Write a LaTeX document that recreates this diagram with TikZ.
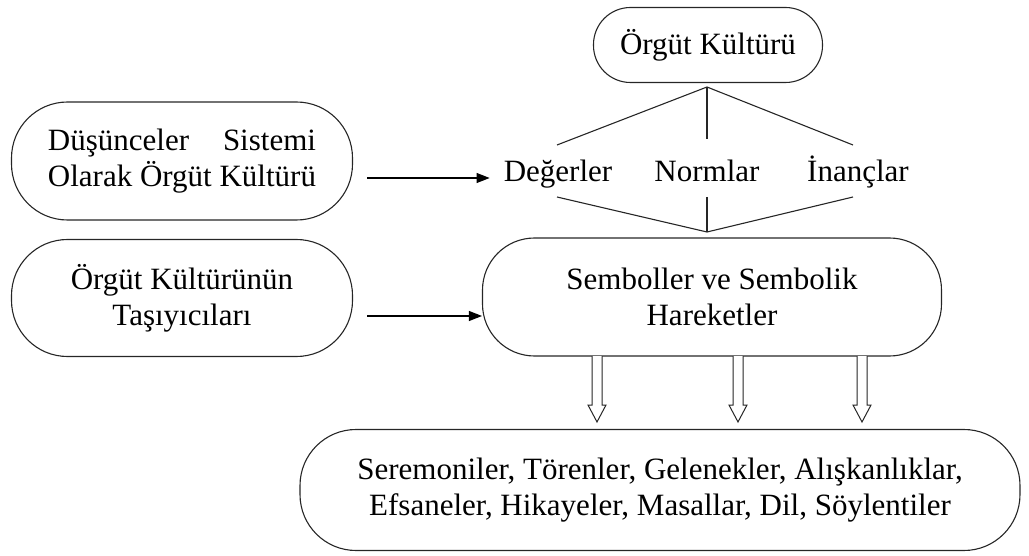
\documentclass[tikz,border=0pt]{standalone}
\usepackage{fontspec}
\setmainfont{Liberation Serif}
\usetikzlibrary{arrows.meta,calc}
\newlength\mylen
\begin{document}
\begin{tikzpicture}[x=1pt,y=-1pt,
  every node/.style={font=\fontsize{31}{36}\selectfont, inner sep=0pt},
  rbox/.style={draw=black!85, line width=1.1pt, align=center},
  ln/.style={draw=black!85, line width=1.1pt},
  arr/.style={draw=black, line width=1.1pt, -{Triangle[length=13pt,width=10pt]}},
  hol/.style={draw=black!85, line width=1pt, fill=white}]
\useasboundingbox (0,0) rectangle (1029,556);

\node[rbox, minimum width=229pt, minimum height=75pt, rounded corners=37pt] (ok) at (708,45) {Örgüt Kültürü};
\node[rbox, minimum width=341pt, minimum height=118pt, rounded corners=56pt] (dus) at (182,161)
  {\settowidth{\mylen}{Olarak Örgüt Kültürü}\makebox[\mylen][s]{Düşünceler\hfill Sistemi}\\Olarak Örgüt Kültürü};
\node[rbox, minimum width=341pt, minimum height=117pt, rounded corners=56pt] (tas) at (182,298)
  {Örgüt Kültürünün\\Taşıyıcıları};
\node[rbox, minimum width=459pt, minimum height=118pt, rounded corners=52pt] (sem) at (712,297)
  {Semboller ve Sembolik\\Hareketler};
\node[rbox, minimum width=720pt, minimum height=121pt, rounded corners=56pt] (bot) at (660,490)
  {Seremoniler, Törenler, Gelenekler, Alışkanlıklar,\\Efsaneler, Hikayeler, Masallar, Dil, Söylentiler};

\node[anchor=base] (deg) at (558,182) {Değerler};
\node[anchor=base] (nor) at (707,182) {Normlar};
\node[anchor=base] (ina) at (858,182) {İnançlar};

\coordinate (apx1) at (707,87);
\coordinate (l1) at (557,145);
\coordinate (m1) at (707,139);
\coordinate (r1) at (853,145);
\coordinate (l2) at (557,197);
\coordinate (m2) at (707,197);
\coordinate (r2) at (853,197);
\coordinate (apx2) at (707,232);
\draw[ln] (l1) -- (apx1) -- (r1);
\draw[ln] (apx1) -- (m1);
\draw[ln] (l2) -- (apx2) -- (r2);
\draw[ln] (m2) -- (apx2);

\coordinate (a1s) at (367,178);
\coordinate (a2s) at (367,316);
\draw[arr] (a1s) -- ($(a1s -| deg.west)+(-14,0)$);
\draw[arr] (a2s) -- (a2s -| sem.west);

\foreach \x in {597,738,862}{
  \draw[hol] (\x-5,356) -- (\x-5,405) -- (\x-9,405) -- (\x,422) -- (\x+9,405) -- (\x+5,405) -- (\x+5,356);
}
\end{tikzpicture}
\end{document}
